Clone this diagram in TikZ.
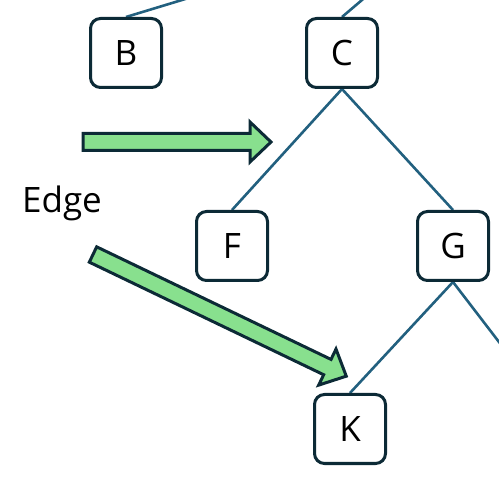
\documentclass[tikz,border=0pt]{standalone}
\usepackage{fontspec}
\setmainfont{Open Sans}
\usetikzlibrary{backgrounds}
\definecolor{boxline}{HTML}{0C2A36}
\definecolor{edgeblue}{HTML}{22607F}
\definecolor{arrowgreen}{HTML}{88E08E}
\tikzset{
  treenode/.style={draw=boxline, line width=3pt, rounded corners=10pt, fill=white,
    minimum width=71pt, minimum height=69pt, inner sep=0pt, font=\fontsize{35}{40}\selectfont},
  treeedge/.style={draw=edgeblue, line width=2.6pt},
  blockarrow/.style={draw=boxline, fill=arrowgreen, line width=3pt, line join=miter},
  lbl/.style={font=\fontsize{35}{40}\selectfont, inner sep=0pt}
}
\newcommand{\mkblockarrow}[3]{% start, length, angle
  \begin{scope}[shift={#1}, rotate=#3]
    \path[blockarrow] (0,-8.5) -- (#2-21,-8.5) -- (#2-21,-20) -- (#2,0) -- (#2-21,20) -- (#2-21,8.5) -- (0,8.5) -- cycle;
  \end{scope}}
\begin{document}
\begin{tikzpicture}[x=1pt, y=-1pt]
  \useasboundingbox (0,0) rectangle (499,492);
  \clip (0,0) rectangle (499,492);
  % off-canvas connection points
  \coordinate (pB) at (238,-17);
  \coordinate (pC) at (382,-17);
  \coordinate (gR) at (545,402);
  % nodes
  \node[treenode] (B) at (126,53) {B};
  \node[treenode] (C) at (342,53) {C};
  \node[treenode] (F) at (232,246) {F};
  \node[treenode] (G) at (453,246) {G};
  \node[treenode] (K) at (350,429) {K};
  % edges
  \begin{scope}[on background layer]
    \draw[treeedge] (B.north) -- (pB);
    \draw[treeedge] (C.north) -- (pC);
    \draw[treeedge] (C.south) -- (F.north);
    \draw[treeedge] (C.south) -- (G.north);
    \draw[treeedge] (G.south) -- (K.north);
    \draw[treeedge] (G.south) -- (gR);
  \end{scope}
  % label
  \node[lbl, anchor=base] (edgelbl) at (62,213) {Edge};
  % block arrows
  \mkblockarrow{(83,142)}{188}{0}
  \mkblockarrow{(93,254.5)}{281}{-25.66}
\end{tikzpicture}
\end{document}
